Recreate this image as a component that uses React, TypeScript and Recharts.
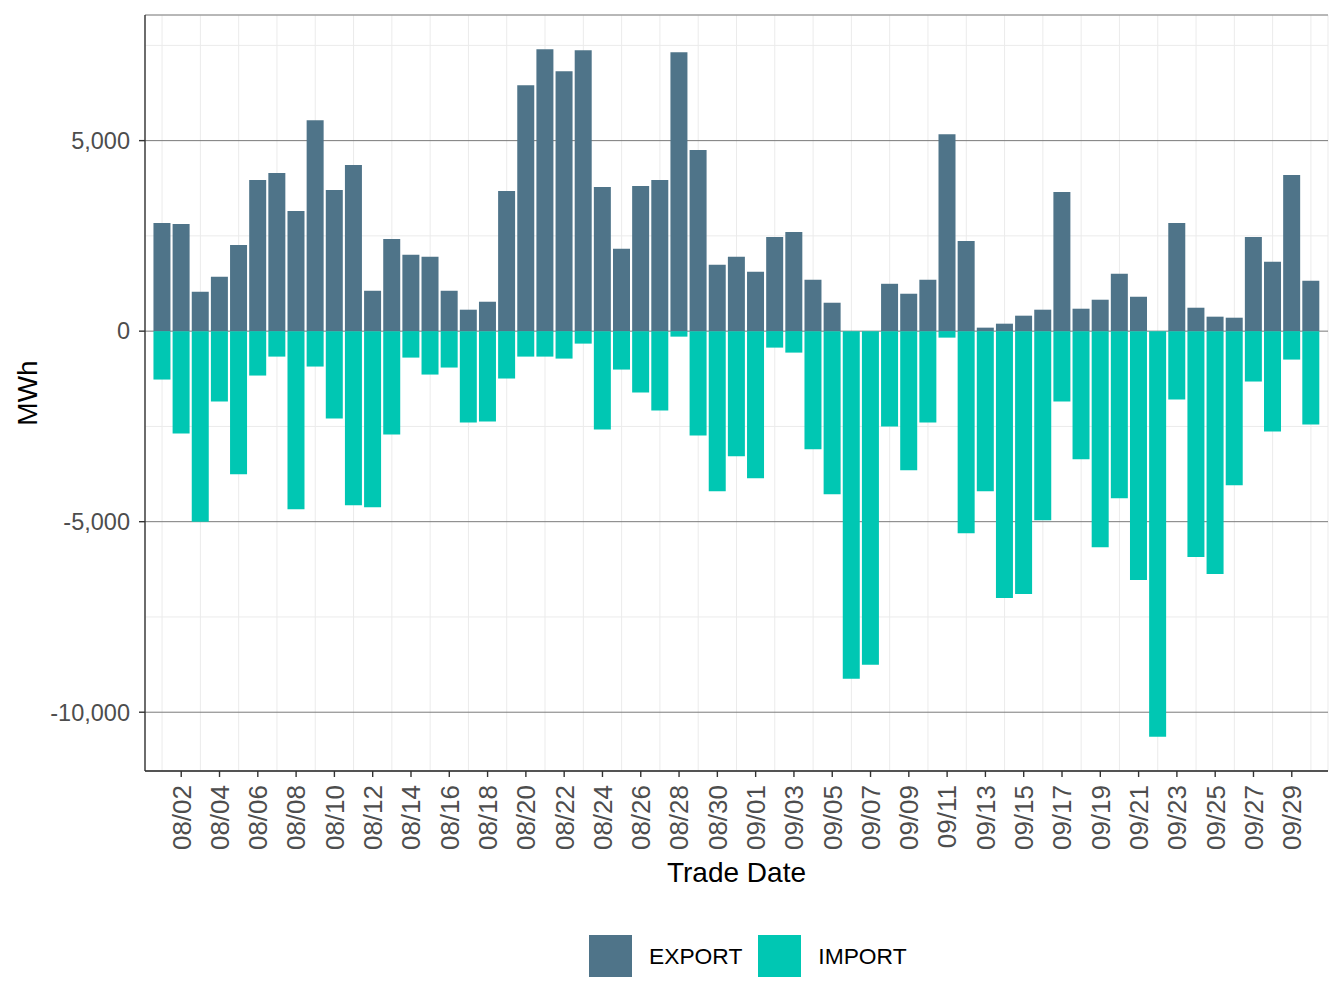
import React from 'react';
import { BarChart, Bar, XAxis, YAxis, CartesianGrid, Label } from 'recharts';

const FONT = '"Liberation Sans", Arial, Helvetica, sans-serif';

const dates = [
  '08/01', '08/02', '08/03', '08/04', '08/05', '08/06', '08/07', '08/08', '08/09', '08/10',
  '08/11', '08/12', '08/13', '08/14', '08/15', '08/16', '08/17', '08/18', '08/19', '08/20',
  '08/21', '08/22', '08/23', '08/24', '08/25', '08/26', '08/27', '08/28', '08/29', '08/30',
  '08/31', '09/01', '09/02', '09/03', '09/04', '09/05', '09/06', '09/07', '09/08', '09/09',
  '09/10', '09/11', '09/12', '09/13', '09/14', '09/15', '09/16', '09/17', '09/18', '09/19',
  '09/20', '09/21', '09/22', '09/23', '09/24', '09/25', '09/26', '09/27', '09/28', '09/29',
  '09/30',
];

const exportValues = [
  2840, 2815, 1034, 1427, 2264, 3966, 4149, 3154, 5537, 3704,
  4359, 1060, 2421, 2003, 1950, 1060, 563, 772, 3678, 6453,
  7395, 6819, 7369, 3783, 2160, 3809, 3966, 7317, 4751, 1741,
  1950, 1558, 2474, 2605, 1348, 746, 0, 0, 1243, 982,
  1348, 5170, 2369, 92, 196, 406, 563, 3652, 589, 825,
  1505, 903, 0, 2840, 615, 380, 353, 2474, 1819, 4097,
  1322,
];

const importValues = [
  -1270, -2683, -5000, -1845, -3757, -1165, -668, -4673, -929, -2290,
  -4568, -4620, -2709, -694, -1139, -955, -2395, -2369, -1243, -668,
  -668, -720, -327, -2578, -1008, -1610, -2081, -144, -2736, -4202,
  -3285, -3861, -432, -563, -3102, -4280, -9123, -8757, -2500, -3652,
  -2395, -170, -5301, -4202, -7003, -6898, -4961, -1845, -3364, -5668,
  -4385, -6531, -10641, -1793, -5929, -6374, -4045, -1322, -2631, -746,
  -2448,
];

const xTickLabels = ['08/02', '08/04', '08/06', '08/08', '08/10', '08/12', '08/14', '08/16', '08/18', '08/20',
  '08/22', '08/24', '08/26', '08/28', '08/30', '09/01', '09/03', '09/05', '09/07', '09/09', '09/11', '09/13',
  '09/15', '09/17', '09/19', '09/21', '09/23', '09/25', '09/27', '09/29'];
const xMinorTicks = dates.filter((d) => !xTickLabels.includes(d));

const yMajorTicks = [-10000, -5000, 0, 5000];
const yMinorTicks = [-7500, -2500, 2500, 7500];

const seriesNames = ['EXPORT', 'IMPORT'];
const seriesColors = ['#4F7489', '#00C7B3'];

const data = dates.map((d, i) => ({ date: d, EXPORT: exportValues[i], IMPORT: importValues[i] }));

const dataMax = Math.max(...exportValues);
const dataMin = Math.min(...importValues);
const pad = (dataMax - dataMin) * 0.05;
const yDomain: [number, number] = [dataMin - pad, dataMax + pad];

const fmt = (v: number) => v.toLocaleString('en-US');

const XTick = (props: any) => {
  const { x, y, payload } = props;
  return (
    <g transform={`translate(${x},${y})`}>
      <text transform="rotate(-90)" textAnchor="end" dy="0.36em" fill="#4d4d4d" fontSize={26} fontFamily={FONT}>
        {payload.value}
      </text>
    </g>
  );
};

const EmptyTick = () => <g />;

const XTitle = (props: any) => {
  const vb = props.viewBox || { x: 0, y: 0, width: 0, height: 0 };
  const cx = vb.x + vb.width / 2;
  const cy = vb.y + 101;
  return (
    <text x={cx} y={cy} textAnchor="middle" dominantBaseline="central" fontSize={28} fill="#000" fontFamily={FONT}>
      Trade Date
    </text>
  );
};

const YTitle = (props: any) => {
  const vb = props.viewBox || { x: 0, y: 0, width: 0, height: 0 };
  const cx = vb.x + 27;
  const cy = vb.y + vb.height / 2;
  return (
    <text x={cx} y={cy} transform={`rotate(-90, ${cx}, ${cy})`} textAnchor="middle" dominantBaseline="central" fontSize={28} fill="#000" fontFamily={FONT}>
      MWh
    </text>
  );
};

const border = { stroke: '#333333', strokeWidth: 1.4 };

export default function App() {
  return (
    <div style={{ position: 'absolute', left: 0, top: 0, width: 1344, height: 1008, background: '#ffffff', fontFamily: FONT }}>
      <BarChart
        width={1344}
        height={1008}
        data={data}
        stackOffset="sign"
        barCategoryGap="5%"
        margin={{ top: 15, right: 16, bottom: 0, left: 0 }}
      >
        <CartesianGrid xAxisId="minor" yAxisId="minor" stroke="#ebebeb" strokeWidth={1} />
        <CartesianGrid xAxisId="main" yAxisId="main" vertical={false} stroke="#7a7a7a" strokeWidth={1} />
        <XAxis
          xAxisId="main"
          dataKey="date"
          ticks={xTickLabels}
          interval={0}
          height={237}
          padding={{ left: 7.5, right: 7.5 }}
          tick={<XTick />}
          tickSize={6}
          tickMargin={8}
          tickLine={{ stroke: '#333333', strokeWidth: 1.4 }}
          axisLine={border}
        >
          <Label content={<XTitle />} />
        </XAxis>
        <XAxis
          xAxisId="minor"
          orientation="top"
          dataKey="date"
          ticks={xMinorTicks}
          interval={0}
          height={0}
          padding={{ left: 7.5, right: 7.5 }}
          tick={<EmptyTick />}
          tickLine={false}
          axisLine={border}
        />
        <YAxis
          yAxisId="main"
          type="number"
          domain={yDomain}
          allowDataOverflow
          ticks={yMajorTicks}
          interval={0}
          width={145}
          tickFormatter={fmt}
          tick={{ fill: '#4d4d4d', fontSize: 23.5, fontFamily: FONT }}
          tickSize={6}
          tickMargin={9}
          tickLine={{ stroke: '#333333', strokeWidth: 1.4 }}
          axisLine={border}
        >
          <Label content={<YTitle />} />
        </YAxis>
        <YAxis
          yAxisId="minor"
          orientation="right"
          type="number"
          domain={yDomain}
          allowDataOverflow
          ticks={yMinorTicks}
          interval={0}
          width={0}
          tick={<EmptyTick />}
          tickLine={false}
          axisLine={border}
        />
        {seriesNames.map((name, i) => (
          <Bar
            key={name}
            xAxisId="main"
            yAxisId="main"
            dataKey={name}
            stackId="a"
            fill={seriesColors[i]}
            isAnimationActive={false}
          />
        ))}
      </BarChart>
      <div style={{ position: 'absolute', left: 589, top: 935, display: 'flex', alignItems: 'center' }}>
        {seriesNames.map((name, i) => (
          <div key={name} style={{ display: 'flex', alignItems: 'center', marginRight: 16 }}>
            <div style={{ width: 43, height: 42, background: seriesColors[i] }} />
            <span style={{ marginLeft: 17, fontSize: 22.8, color: '#000', fontFamily: FONT }}>{name}</span>
          </div>
        ))}
      </div>
    </div>
  );
}
